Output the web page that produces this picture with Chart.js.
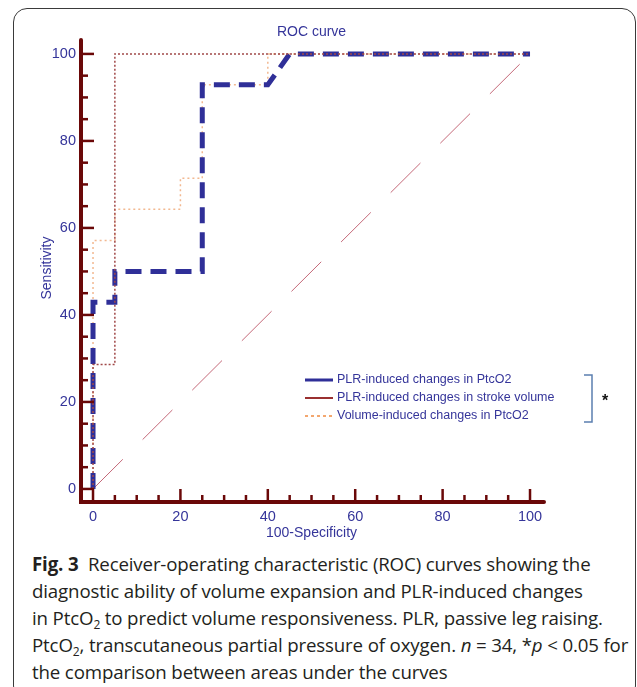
<!DOCTYPE html>
<html>
<head>
<meta charset="utf-8">
<script src="https://cdn.jsdelivr.net/npm/chart.js@4/dist/chart.umd.min.js"></script>
<style>
  body { margin: 0; background: #fff; }
  #frame { position: absolute; left: 13px; top: 8px; width: 621px; height: 690px;
           border: 1.5px solid #3a3a3a; border-radius: 14px; }
  #wrap { position: absolute; left: 0; top: 0; width: 637px; height: 545px; }
  #caption { position: absolute; left: 32px; top: 551px; font-family: "Open Sans", sans-serif;
             font-size: 18.7px; line-height: 26.9px; color: #231f20; white-space: nowrap;
             letter-spacing: -0.15px; }
  #caption b { font-weight: 700; }
  #caption sub { font-size: 12px; line-height: 0; vertical-align: -4px; }
</style>
</head>
<body>
<div id="frame"></div>
<div id="wrap"><canvas id="roc" width="637" height="545"></canvas></div>
<div id="caption">
  <b>Fig. 3</b>&nbsp; Receiver-operating characteristic (ROC) curves showing the<br>
  diagnostic ability of volume expansion and PLR-induced changes<br>
  in PtcO<sub>2</sub> to predict volume responsiveness. PLR, passive leg raising.<br>
  PtcO<sub>2</sub>, transcutaneous partial pressure of oxygen. <i>n</i> = 34, *<i>p</i> &lt; 0.05 for<br>
  the comparison between areas under the curves
</div>
<script>
// 100-specificity / sensitivity points of each curve
const plrPtcX = [0, 0, 5, 5, 25, 25, 40, 45, 100];
const plrPtcY = [0, 42.9, 42.9, 50, 50, 92.9, 92.9, 100, 100];
const plrSvX = [0, 0, 5, 5, 100];
const plrSvY = [0, 28.6, 28.6, 100, 100];
const volPtcX = [0, 0, 5, 5, 20, 20, 25, 25, 40, 40, 100];
const volPtcY = [0, 57.1, 57.1, 64.3, 64.3, 71.4, 71.4, 92.9, 92.9, 100, 100];
const diagX = [0, 100];
const diagY = [0, 100];
const tickValues = [0, 5, 10, 15, 20, 25, 30, 35, 40, 45, 50, 55, 60, 65, 70, 75, 80, 85, 90, 95, 100];
const legendLabels = ['PLR-induced changes in PtcO2', 'PLR-induced changes in stroke volume', 'Volume-induced changes in PtcO2'];

const BLUE = '#2f2f98';
const TEXT = '#35359a';
const AXIS = '#6a0808';
const FONT = '"Liberation Sans", Arial, sans-serif';

function pts(xs, ys) {
  return xs.map((x, i) => ({ x: x, y: ys[i] }));
}

const axesPlugin = {
  id: 'axesPlugin',
  afterDraw(chart) {
    const ctx = chart.ctx;
    const xs = chart.scales.x, ys = chart.scales.y;
    const a = chart.chartArea;
    ctx.save();
    ctx.strokeStyle = AXIS;
    ctx.lineCap = 'round';
    ctx.lineWidth = 4;
    ctx.beginPath();
    ctx.moveTo(a.left, a.top);
    ctx.lineTo(a.left, a.bottom);
    ctx.lineTo(a.right, a.bottom);
    ctx.stroke();
    ctx.lineCap = 'butt';
    ctx.lineWidth = 2.5;
    tickValues.forEach(v => {
      const len = v % 20 === 0 ? 13 : 7;
      const py = ys.getPixelForValue(v);
      ctx.beginPath();
      ctx.moveTo(a.left, py);
      ctx.lineTo(a.left + len, py);
      ctx.stroke();
      const px = xs.getPixelForValue(v);
      ctx.beginPath();
      ctx.moveTo(px, a.bottom);
      ctx.lineTo(px, a.bottom - len);
      ctx.stroke();
    });

    // titles
    ctx.fillStyle = TEXT;
    ctx.font = '14px ' + FONT;
    ctx.textAlign = 'center';
    ctx.textBaseline = 'middle';
    const cx = (xs.getPixelForValue(0) + xs.getPixelForValue(100)) / 2;
    ctx.fillText('ROC curve', cx, 32);
    ctx.fillText('100-Specificity', cx, 533);
    ctx.save();
    ctx.translate(47, 268);
    ctx.rotate(-Math.PI / 2);
    ctx.fillText('Sensitivity', 0, 0);
    ctx.restore();

    // legend
    const lx = 305, ly = 380, gap = 18;
    const styles = [
      { c: BLUE, w: 3, d: [] },
      { c: '#9a3030', w: 2, d: [] },
      { c: '#f08a40', w: 1.5, d: [3, 3] }
    ];
    ctx.textAlign = 'left';
    ctx.font = '12.5px ' + FONT;
    legendLabels.forEach((t, i) => {
      const y = ly + i * gap;
      ctx.strokeStyle = styles[i].c;
      ctx.lineWidth = styles[i].w;
      ctx.setLineDash(styles[i].d);
      ctx.beginPath();
      ctx.moveTo(lx, y);
      ctx.lineTo(lx + 28, y);
      ctx.stroke();
      ctx.setLineDash([]);
      ctx.fillStyle = TEXT;
      ctx.fillText(t, lx + 32, y);
    });
    // bracket + star
    ctx.strokeStyle = '#5b7fb0';
    ctx.lineWidth = 1.5;
    ctx.beginPath();
    ctx.moveTo(584, 375);
    ctx.lineTo(592, 375);
    ctx.lineTo(592, 422);
    ctx.lineTo(584, 422);
    ctx.stroke();
    ctx.fillStyle = '#111';
    ctx.font = 'bold 16px ' + FONT;
    ctx.fillText('*', 602, 402);
    ctx.restore();
  }
};

new Chart(document.getElementById('roc'), {
  type: 'scatter',
  data: {
    datasets: [
      { label: legendLabels[0], data: pts(plrPtcX, plrPtcY), showLine: true, borderColor: BLUE,
        borderWidth: 5, borderDash: [16, 9], pointRadius: 0, order: 2 },
      { label: legendLabels[1], data: pts(plrSvX, plrSvY), showLine: true, borderColor: '#a04848',
        borderWidth: 1.5, borderDash: [2, 2], pointRadius: 0, order: 1 },
      { label: legendLabels[2], data: pts(volPtcX, volPtcY), showLine: true, borderColor: '#f2b890',
        borderWidth: 1.5, borderDash: [2, 3], pointRadius: 0, order: 3 },
      { label: 'diagonal', data: pts(diagX, diagY), showLine: true, borderColor: '#c46878',
        borderWidth: 1, borderDash: [42, 28], pointRadius: 0, order: 4 }
    ]
  },
  options: {
    responsive: false,
    animation: false,
    layout: { padding: { top: 40, right: 93, left: 0, bottom: 0 } },
    plugins: { legend: { display: false }, tooltip: { enabled: false } },
    scales: {
      x: {
        type: 'linear', min: -2.75, max: 103.2,
        grid: { display: false, drawTicks: false }, border: { display: false },
        afterBuildTicks: s => { s.ticks = tickValues.map(v => ({ value: v })); },
        afterFit: s => { s.height = 43; },
        ticks: { autoSkip: false, maxRotation: 0, padding: 6, color: TEXT,
                 font: { family: FONT, size: 14.5 },
                 callback: v => (v % 20 === 0 ? v : '') }
      },
      y: {
        type: 'linear', min: -3, max: 103.2,
        grid: { display: false, drawTicks: false }, border: { display: false },
        afterBuildTicks: s => { s.ticks = tickValues.map(v => ({ value: v })); },
        afterFit: s => { s.width = 81; },
        ticks: { autoSkip: false, padding: 5, color: TEXT,
                 font: { family: FONT, size: 14.5 },
                 callback: v => (v % 20 === 0 ? v : '') }
      }
    }
  },
  plugins: [axesPlugin]
});
</script>
</body>
</html>
